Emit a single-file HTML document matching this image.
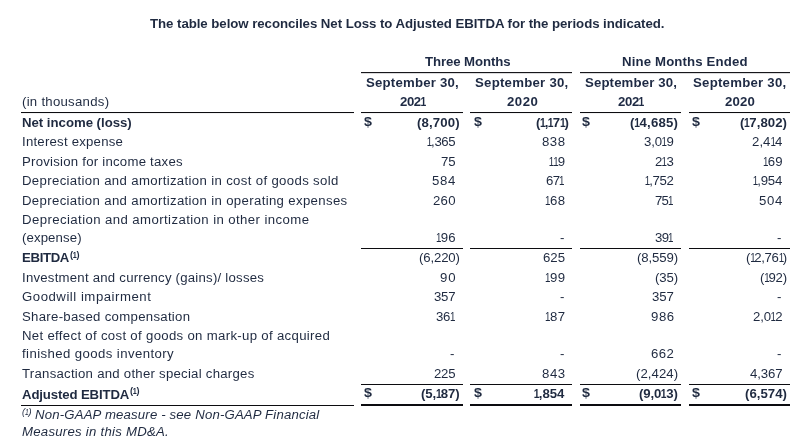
<!DOCTYPE html>
<html><head><meta charset="utf-8"><title>Adjusted EBITDA reconciliation</title>
<style>
html,body{margin:0;padding:0;background:#fff;}
body{width:799px;height:443px;position:relative;overflow:hidden;font-family:"Liberation Sans",sans-serif;color:#1f2a40;}
.t{position:absolute;white-space:pre;line-height:1;font-size:12.0px;transform-origin:0 0;transform:scaleX(1.1);}
.b{font-weight:bold;}
.i{font-style:italic;}
.o{display:inline-block;transform:scaleX(.74);margin:0 -.125em 0 -.092em;}.b .o{transform:scaleX(.78);margin:0 -.11em 0 -.08em;}
</style></head><body>

<div class="t b" style="left:150.00px;top:17.82px;letter-spacing:-0.054px;font-size:12.4px;transform:scaleX(1.07);">The table below reconciles Net Loss to Adjusted EBITDA for the periods indicated.</div>
<div class="t b" style="left:425.00px;top:56.02px;letter-spacing:-0.082px;color:#1e2a44;">Three Months</div>
<div class="t b" style="left:622.00px;top:56.02px;letter-spacing:0.131px;color:#1e2a44;">Nine Months Ended</div>
<div class="t b" style="left:366.00px;top:77.02px;letter-spacing:0.186px;color:#1e2a44;">September 30,</div>
<div class="t b" style="left:475.00px;top:77.02px;letter-spacing:0.231px;color:#1e2a44;">September 30,</div>
<div class="t b" style="left:585.00px;top:77.02px;letter-spacing:0.121px;color:#1e2a44;">September 30,</div>
<div class="t b" style="left:693.00px;top:77.02px;letter-spacing:0.224px;color:#1e2a44;">September 30,</div>
<div class="t b" style="left:400.00px;top:96.02px;letter-spacing:-0.393px;color:#1e2a44;">202<span class="o">1</span></div>
<div class="t b" style="left:507.00px;top:96.02px;letter-spacing:0.457px;color:#1e2a44;">2020</div>
<div class="t b" style="left:618.00px;top:96.02px;letter-spacing:-0.363px;color:#1e2a44;">202<span class="o">1</span></div>
<div class="t b" style="left:725.00px;top:96.02px;letter-spacing:0.157px;color:#1e2a44;">2020</div>
<div class="t" style="left:22.00px;top:96.02px;letter-spacing:0.236px;">(in thousands)</div>
<div class="t b" style="left:22.00px;top:117.02px;letter-spacing:-0.016px;">Net income (loss)</div>
<div class="t" style="left:22.00px;top:136.02px;letter-spacing:0.200px;">Interest expense</div>
<div class="t" style="left:22.00px;top:156.02px;letter-spacing:0.210px;">Provision for income taxes</div>
<div class="t" style="left:22.00px;top:175.02px;letter-spacing:0.308px;">Depreciation and amortization in cost of goods sold</div>
<div class="t" style="left:22.00px;top:195.02px;letter-spacing:0.309px;">Depreciation and amortization in operating expenses</div>
<div class="t" style="left:22.00px;top:214.02px;letter-spacing:0.367px;">Depreciation and amortization in other income</div>
<div class="t" style="left:22.00px;top:232.02px;letter-spacing:0.100px;">(expense)</div>
<div class="t b" style="left:22.00px;top:252.02px;letter-spacing:-0.322px;">EBITDA</div>
<div class="t" style="left:22.00px;top:272.02px;letter-spacing:0.205px;">Investment and currency (gains)/ losses</div>
<div class="t" style="left:22.00px;top:291.02px;letter-spacing:0.468px;">Goodwill impairment</div>
<div class="t" style="left:22.00px;top:311.02px;letter-spacing:0.262px;">Share-based compensation</div>
<div class="t" style="left:22.00px;top:330.02px;letter-spacing:0.282px;">Net effect of cost of goods on mark-up of acquired</div>
<div class="t" style="left:22.00px;top:348.02px;letter-spacing:0.366px;">finished goods inventory</div>
<div class="t" style="left:22.00px;top:368.02px;letter-spacing:0.226px;">Transaction and other special charges</div>
<div class="t b" style="left:22.00px;top:389.02px;letter-spacing:-0.124px;">Adjusted EBITDA</div>
<div class="t b" style="left:70.00px;top:250.82px;letter-spacing:-0.010px;font-size:8.4px;">(<span class="o">1</span>)</div>
<div class="t b" style="left:130.00px;top:386.82px;letter-spacing:-0.010px;font-size:8.4px;">(<span class="o">1</span>)</div>
<div class="t i" style="left:22.00px;top:407.82px;letter-spacing:0.137px;font-size:8.4px;">(<span class="o">1</span>)</div>
<div class="t i" style="left:35.00px;top:409.02px;letter-spacing:0.146px;">Non-GAAP measure - see Non-GAAP Financial</div>
<div class="t i" style="left:22.00px;top:426.02px;letter-spacing:0.222px;">Measures in this MD&amp;A.</div>
<div class="t b" style="left:417.00px;top:117.02px;letter-spacing:0.121px;">(8,700)</div>
<div class="t b" style="left:536.00px;top:117.02px;letter-spacing:-0.216px;">(<span class="o">1</span>,<span class="o">1</span>7<span class="o">1</span>)</div>
<div class="t b" style="left:630.00px;top:117.02px;letter-spacing:0.159px;">(<span class="o">1</span>4,685)</div>
<div class="t b" style="left:740.00px;top:117.02px;letter-spacing:0.033px;">(<span class="o">1</span>7,802)</div>
<div class="t b" style="left:364.00px;top:115.02px;font-size:13px;">$</div>
<div class="t b" style="left:474.00px;top:115.02px;font-size:13px;">$</div>
<div class="t b" style="left:582.00px;top:115.02px;font-size:13px;">$</div>
<div class="t b" style="left:692.00px;top:115.02px;font-size:13px;">$</div>
<div class="t" style="left:427.00px;top:136.02px;letter-spacing:-0.349px;"><span class="o">1</span>,365</div>
<div class="t" style="left:542.00px;top:136.02px;letter-spacing:0.456px;">838</div>
<div class="t" style="left:644.00px;top:136.02px;letter-spacing:-0.078px;">3,0<span class="o">1</span>9</div>
<div class="t" style="left:752.00px;top:136.02px;letter-spacing:0.048px;">2,4<span class="o">1</span>4</div>
<div class="t" style="left:441.00px;top:156.02px;letter-spacing:-0.182px;">75</div>
<div class="t" style="left:549.00px;top:156.02px;letter-spacing:-0.123px;"><span class="o">1</span><span class="o">1</span>9</div>
<div class="t" style="left:655.00px;top:156.02px;letter-spacing:-0.120px;">2<span class="o">1</span>3</div>
<div class="t" style="left:763.00px;top:156.02px;letter-spacing:0.235px;"><span class="o">1</span>69</div>
<div class="t" style="left:432.00px;top:175.02px;letter-spacing:0.620px;">584</div>
<div class="t" style="left:546.00px;top:175.02px;letter-spacing:-0.492px;">67<span class="o">1</span></div>
<div class="t" style="left:645.00px;top:175.02px;letter-spacing:-0.303px;"><span class="o">1</span>,752</div>
<div class="t" style="left:753.00px;top:175.02px;letter-spacing:-0.220px;"><span class="o">1</span>,954</div>
<div class="t" style="left:433.00px;top:195.02px;letter-spacing:0.203px;">260</div>
<div class="t" style="left:545.00px;top:195.02px;letter-spacing:0.383px;"><span class="o">1</span>68</div>
<div class="t" style="left:655.00px;top:195.02px;letter-spacing:-0.672px;">75<span class="o">1</span></div>
<div class="t" style="left:759.00px;top:195.02px;letter-spacing:0.565px;">504</div>
<div class="t" style="left:436.00px;top:232.02px;letter-spacing:0.242px;"><span class="o">1</span>96</div>
<div class="t" style="left:560.00px;top:232.02px;">-</div>
<div class="t" style="left:655.00px;top:232.02px;letter-spacing:-0.582px;">39<span class="o">1</span></div>
<div class="t" style="left:777.00px;top:232.02px;">-</div>
<div class="t" style="left:419.00px;top:252.02px;letter-spacing:-0.139px;">(6,220)</div>
<div class="t" style="left:543.00px;top:252.02px;letter-spacing:0.015px;">625</div>
<div class="t" style="left:637.00px;top:252.02px;letter-spacing:-0.108px;">(8,559)</div>
<div class="t" style="left:746.00px;top:252.02px;letter-spacing:-0.302px;">(<span class="o">1</span>2,76<span class="o">1</span>)</div>
<div class="t" style="left:440.00px;top:272.02px;letter-spacing:0.831px;">90</div>
<div class="t" style="left:545.00px;top:272.02px;letter-spacing:0.426px;"><span class="o">1</span>99</div>
<div class="t" style="left:655.00px;top:272.02px;letter-spacing:-0.131px;">(35)</div>
<div class="t" style="left:760.00px;top:272.02px;letter-spacing:-0.196px;">(<span class="o">1</span>92)</div>
<div class="t" style="left:434.00px;top:291.02px;letter-spacing:-0.212px;">357</div>
<div class="t" style="left:560.00px;top:291.02px;">-</div>
<div class="t" style="left:652.00px;top:291.02px;letter-spacing:-0.090px;">357</div>
<div class="t" style="left:777.00px;top:291.02px;">-</div>
<div class="t" style="left:436.00px;top:311.02px;letter-spacing:-0.298px;">36<span class="o">1</span></div>
<div class="t" style="left:545.00px;top:311.02px;letter-spacing:0.372px;"><span class="o">1</span>87</div>
<div class="t" style="left:651.00px;top:311.02px;letter-spacing:0.524px;">986</div>
<div class="t" style="left:753.00px;top:311.02px;letter-spacing:-0.160px;">2,0<span class="o">1</span>2</div>
<div class="t" style="left:450.00px;top:348.02px;">-</div>
<div class="t" style="left:560.00px;top:348.02px;">-</div>
<div class="t" style="left:651.00px;top:348.02px;letter-spacing:0.415px;">662</div>
<div class="t" style="left:777.00px;top:348.02px;">-</div>
<div class="t" style="left:434.00px;top:368.02px;letter-spacing:-0.217px;">225</div>
<div class="t" style="left:542.00px;top:368.02px;letter-spacing:0.528px;">843</div>
<div class="t" style="left:636.00px;top:368.02px;letter-spacing:0.043px;">(2,424)</div>
<div class="t" style="left:750.00px;top:368.02px;letter-spacing:-0.119px;">4,367</div>
<div class="t b" style="left:421.00px;top:388.02px;letter-spacing:-0.114px;">(5,<span class="o">1</span>87)</div>
<div class="t b" style="left:534.00px;top:388.02px;letter-spacing:-0.060px;"><span class="o">1</span>,854</div>
<div class="t b" style="left:639.00px;top:388.02px;letter-spacing:-0.085px;">(9,0<span class="o">1</span>3)</div>
<div class="t b" style="left:745.00px;top:388.02px;letter-spacing:0.026px;">(6,574)</div>
<div class="t b" style="left:364.00px;top:386.02px;font-size:13px;">$</div>
<div class="t b" style="left:474.00px;top:386.02px;font-size:13px;">$</div>
<div class="t b" style="left:582.00px;top:386.02px;font-size:13px;">$</div>
<div class="t b" style="left:692.00px;top:386.02px;font-size:13px;">$</div>
<svg width="799" height="443" viewBox="0 0 799 443" style="position:absolute;left:0;top:0">
<rect x="361" y="72.05" width="211.0" height="1.1" fill="#0c0c10"/>
<rect x="580" y="72.05" width="210.0" height="1.1" fill="#0c0c10"/>
<rect x="21" y="112" width="333.0" height="1.05" fill="#0c0c10"/>
<rect x="361" y="112" width="102.0" height="1.05" fill="#0c0c10"/>
<rect x="361" y="248" width="102.0" height="1.0" fill="#0c0c10"/>
<rect x="361" y="384" width="102.0" height="1.0" fill="#0c0c10"/>
<rect x="361" y="404.0" width="102.0" height="2.0" fill="#0c0c10"/>
<rect x="470" y="112" width="102.0" height="1.05" fill="#0c0c10"/>
<rect x="470" y="248" width="102.0" height="1.0" fill="#0c0c10"/>
<rect x="470" y="384" width="102.0" height="1.0" fill="#0c0c10"/>
<rect x="470" y="404.0" width="102.0" height="2.0" fill="#0c0c10"/>
<rect x="580" y="112" width="101.0" height="1.05" fill="#0c0c10"/>
<rect x="580" y="248" width="101.0" height="1.0" fill="#0c0c10"/>
<rect x="580" y="384" width="101.0" height="1.0" fill="#0c0c10"/>
<rect x="580" y="404.0" width="101.0" height="2.0" fill="#0c0c10"/>
<rect x="689" y="112" width="101.0" height="1.05" fill="#0c0c10"/>
<rect x="689" y="248" width="101.0" height="1.0" fill="#0c0c10"/>
<rect x="689" y="384" width="101.0" height="1.0" fill="#0c0c10"/>
<rect x="689" y="404.0" width="101.0" height="2.0" fill="#0c0c10"/>
<rect x="21" y="405" width="333.0" height="1.0" fill="#0c0c10"/>
</svg>
</body></html>
